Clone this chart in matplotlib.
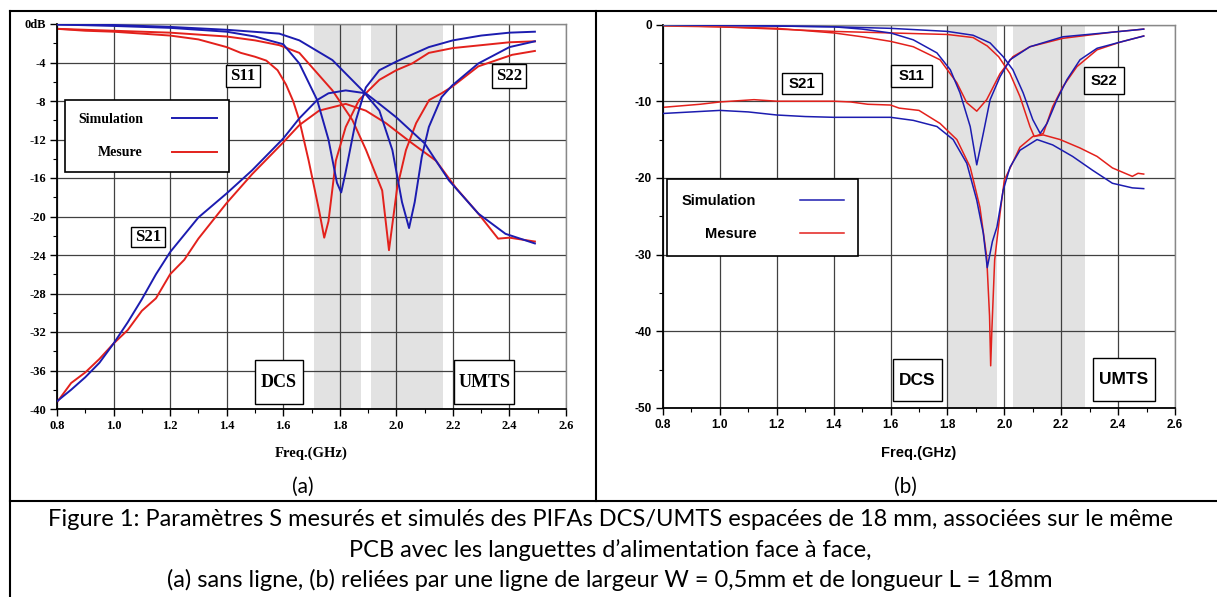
import numpy as np
import matplotlib
matplotlib.use("Agg")
import matplotlib.pyplot as plt
from matplotlib.lines import Line2D
from matplotlib.patches import Rectangle
from matplotlib.ticker import MultipleLocator, FixedLocator, FixedFormatter

plt.rcParams['axes.unicode_minus'] = False

# ---------------- (a) sans ligne ----------------
a_s11_sim_f = [0.80, 1.00, 1.20, 1.40, 1.50, 1.60, 1.657, 1.72, 1.76, 1.79, 1.805, 1.82,
               1.857, 1.892, 1.94, 2.00, 2.115, 2.20, 2.30, 2.40, 2.49]
a_s11_sim_db = [-0.05, -0.2, -0.4, -0.8, -1.3, -2.1, -4.1, -7.9, -12.0, -16.5, -17.5, -15.5,
                -10.0, -6.6, -4.8, -3.9, -2.4, -1.7, -1.2, -0.9, -0.8]

a_s11_meas_f = [0.80, 0.90, 1.00, 1.10, 1.20, 1.30, 1.40, 1.45, 1.50, 1.54, 1.58, 1.61, 1.635,
                1.657, 1.69, 1.727, 1.745, 1.76, 1.786, 1.821, 1.868, 1.94, 2.00, 2.056, 2.115,
                2.20, 2.30, 2.40, 2.49]
a_s11_meas_db = [-0.5, -0.7, -0.8, -1.0, -1.2, -1.6, -2.4, -3.0, -3.4, -3.8, -4.8, -6.3, -8.0,
                 -10.0, -14.2, -19.4, -22.2, -20.5, -14.2, -10.7, -7.9, -5.8, -4.8, -4.1, -3.0,
                 -2.5, -2.2, -1.9, -1.8]

a_s22_sim_f = [0.80, 1.00, 1.20, 1.40, 1.586, 1.657, 1.774, 1.88, 1.94, 1.986, 2.02, 2.045,
               2.065, 2.09, 2.115, 2.16, 2.197, 2.29, 2.40, 2.49]
a_s22_sim_db = [-0.05, -0.1, -0.3, -0.6, -1.0, -1.7, -3.75, -6.9, -9.0, -13.1, -18.5, -21.2,
                -18.5, -13.8, -10.7, -7.6, -6.4, -4.1, -2.4, -1.8]

a_s22_meas_f = [0.80, 1.00, 1.20, 1.40, 1.50, 1.586, 1.657, 1.774, 1.845, 1.893, 1.95, 1.974,
                2.003, 2.034, 2.07, 2.116, 2.16, 2.198, 2.29, 2.41, 2.49]
a_s22_meas_db = [-0.5, -0.7, -0.9, -1.3, -1.7, -2.2, -3.0, -6.9, -10.0, -13.1, -17.3, -23.5,
                 -17.0, -13.1, -10.3, -7.9, -7.2, -6.5, -4.4, -3.2, -2.8]

a_s21_sim_f = [0.80, 0.85, 0.90, 0.95, 1.00, 1.05, 1.10, 1.15, 1.20, 1.30, 1.40, 1.49, 1.60,
               1.657, 1.72, 1.76, 1.821, 1.892, 1.94, 2.00, 2.10, 2.186, 2.29, 2.386, 2.49]
a_s21_sim_db = [-39.2, -38.0, -36.7, -35.2, -33.2, -31.0, -28.6, -26.0, -23.7, -20.1, -17.6,
                -15.2, -11.9, -9.8, -7.9, -7.2, -6.9, -7.2, -8.3, -9.7, -12.4, -16.25, -19.7,
                -21.8, -22.8]

a_s21_meas_f = [0.80, 0.85, 0.90, 0.95, 1.00, 1.05, 1.10, 1.15, 1.20, 1.25, 1.30, 1.40, 1.49,
                1.60, 1.657, 1.727, 1.821, 1.892, 1.963, 2.056, 2.14, 2.21, 2.29, 2.36, 2.40, 2.49]
a_s21_meas_db = [-39.3, -37.3, -36.2, -34.8, -33.2, -31.8, -29.8, -28.5, -26.0, -24.5, -22.3,
                 -18.6, -15.6, -12.3, -10.5, -9.0, -8.3, -9.0, -10.3, -12.4, -14.2, -17.0,
                 -19.7, -22.3, -22.2, -22.6]

a_bands = [(1.71, 1.875), (1.91, 2.165)]
a_yticks = [0, -4, -8, -12, -16, -20, -24, -28, -32, -36, -40]
a_ylabels = ['0dB', '-4', '-8', '-12', '-16', '-20', '-24', '-28', '-32', '-36', '-40']

# ---------------- (b) avec ligne ----------------
b_s11_sim_f = [0.80, 1.00, 1.20, 1.40, 1.50, 1.60, 1.68, 1.763, 1.81, 1.844, 1.88, 1.903,
               1.926, 1.95, 1.985, 2.02, 2.09, 2.206, 2.38, 2.49]
b_s11_sim_db = [0.0, -0.1, -0.2, -0.3, -0.6, -1.1, -2.0, -3.7, -5.9, -8.9, -13.3, -18.3,
                -14.2, -9.8, -6.8, -4.6, -2.9, -1.6, -1.0, -0.6]

b_s11_meas_f = [0.80, 1.00, 1.20, 1.30, 1.40, 1.50, 1.60, 1.68, 1.774, 1.833, 1.868, 1.903,
                1.938, 1.985, 2.03, 2.09, 2.206, 2.38, 2.49]
b_s11_meas_db = [-0.2, -0.3, -0.5, -0.8, -1.1, -1.6, -2.2, -2.9, -4.6, -7.6, -10.2, -11.3,
                 -9.8, -6.4, -4.2, -2.9, -1.8, -1.0, -0.6]

b_s22_sim_f = [0.80, 1.00, 1.20, 1.40, 1.60, 1.80, 1.89, 1.95, 1.996, 2.03, 2.066, 2.10,
               2.126, 2.15, 2.185, 2.22, 2.266, 2.326, 2.407, 2.49]
b_s22_sim_db = [0.0, -0.1, -0.2, -0.3, -0.5, -0.9, -1.4, -2.4, -4.2, -5.9, -8.9, -12.4,
                -14.2, -12.9, -9.8, -7.2, -4.6, -3.1, -2.3, -1.5]

b_s22_meas_f = [0.80, 1.00, 1.20, 1.40, 1.60, 1.80, 1.89, 1.94, 1.98, 2.02, 2.055, 2.09,
                2.105, 2.137, 2.17, 2.206, 2.255, 2.326, 2.407, 2.49]
b_s22_meas_db = [-0.1, -0.3, -0.6, -0.9, -1.1, -1.3, -1.7, -2.8, -4.2, -6.4, -9.4, -13.3,
                 -14.6, -14.2, -10.7, -8.1, -5.5, -3.3, -2.3, -1.5]

b_s21_sim_f = [0.80, 0.90, 1.00, 1.10, 1.20, 1.30, 1.40, 1.60, 1.68, 1.763, 1.82, 1.868,
               1.903, 1.926, 1.940, 1.958, 1.974, 1.996, 2.02, 2.055, 2.115, 2.17, 2.24,
               2.31, 2.38, 2.45, 2.49]
b_s21_sim_db = [-11.6, -11.4, -11.2, -11.4, -11.8, -12.0, -12.1, -12.1, -12.5, -13.3, -15.0,
                -18.1, -22.9, -27.2, -31.7, -28.3, -26.4, -21.6, -18.6, -16.4, -15.0, -15.7,
                -17.2, -19.0, -20.7, -21.3, -21.4]

b_s21_meas_f = [0.80, 0.93, 1.00, 1.12, 1.20, 1.30, 1.40, 1.46, 1.52, 1.60, 1.63, 1.70,
                1.774, 1.833, 1.88, 1.914, 1.938, 1.948, 1.952, 1.956, 1.966, 1.985, 2.00,
                2.055, 2.10, 2.137, 2.196, 2.266, 2.326, 2.38, 2.45, 2.47, 2.49]
b_s21_meas_db = [-10.8, -10.4, -10.1, -9.8, -10.0, -10.0, -10.0, -10.1, -10.4, -10.5, -10.9,
                 -11.2, -12.9, -15.0, -18.6, -23.8, -30.3, -38.0, -44.5, -40.0, -30.7, -24.6,
                 -20.3, -16.0, -14.6, -14.4, -15.0, -16.1, -17.2, -18.7, -19.8, -19.4, -19.5]

b_bands = [(1.80, 1.975), (2.03, 2.285)]
b_yticks = [0, -10, -20, -30, -40, -50]
b_ylabels = ['0', '-10', '-20', '-30', '-40', '-50']

xticks = [0.8, 1.0, 1.2, 1.4, 1.6, 1.8, 2.0, 2.2, 2.4, 2.6]
legend_labels = ['Simulation', 'Mesure']
caption = ["Figure 1: Paramètres S mesurés et simulés des PIFAs DCS/UMTS espacées de 18 mm, associées sur le même",
           "PCB avec les languettes d\u2019alimentation face à face,",
           "(a) sans ligne, (b) reliées par une ligne de largeur W = 0,5mm et de longueur L = 18mm"]

BLUE = '#1c1cb0'
RED = '#e3211c'
BAND = '#e2e2e2'

W, H = 1217, 597
fig = plt.figure(figsize=(W / 100, H / 100), dpi=100)


def fx(px):
    return px / W


def fy(py):
    return 1 - py / H


def setup(ax, fam, yticks, ylabels, ymin, ymaxminor, tick_fs):
    ax.set_xlim(0.8, 2.6)
    ax.set_ylim(ymin, 0)
    ax.xaxis.set_major_locator(FixedLocator(xticks))
    ax.xaxis.set_major_formatter(FixedFormatter(['%.1f' % t for t in xticks]))
    ax.xaxis.set_minor_locator(MultipleLocator(0.1))
    ax.yaxis.set_major_locator(FixedLocator(yticks))
    ax.yaxis.set_major_formatter(FixedFormatter(ylabels))
    ax.yaxis.set_minor_locator(MultipleLocator(ymaxminor))
    ax.tick_params(which='major', direction='out', length=5, width=1, pad=3)
    ax.tick_params(which='minor', direction='out', length=3, width=0.8)
    for lab in ax.get_xticklabels() + ax.get_yticklabels():
        lab.set_family(fam)
        lab.set_weight('bold')
        lab.set_fontsize(tick_fs)
    ax.grid(True, which='major', color='#404040', lw=0.9)
    ax.set_axisbelow(True)
    for s in ['left', 'bottom']:
        ax.spines[s].set_color('black')
        ax.spines[s].set_linewidth(1.3)
    for s in ['top', 'right']:
        ax.spines[s].set_color('#888888')
        ax.spines[s].set_linewidth(1.0)


def boxed(ax, x0, x1, y0, y1, s, fam, fs):
    ax.add_patch(Rectangle((x0, y1), x1 - x0, y0 - y1, facecolor='white',
                           edgecolor='black', lw=1.0, zorder=5))
    ax.text((x0 + x1) / 2, (y0 + y1) / 2, s, ha='center', va='center', family=fam,
            weight='bold', fontsize=fs, zorder=6)


# ---- panel (a)
ax1 = fig.add_axes([fx(57), fy(409), fx(566 - 57), (409 - 24) / H])
for b0, b1 in a_bands:
    ax1.axvspan(b0, b1, color=BAND, lw=0, zorder=0.2)
l_sim, = ax1.plot(a_s11_sim_f, a_s11_sim_db, color=BLUE, lw=1.4, zorder=3)
l_meas, = ax1.plot(a_s11_meas_f, a_s11_meas_db, color=RED, lw=1.4, zorder=2)
ax1.plot(a_s22_sim_f, a_s22_sim_db, color=BLUE, lw=1.4, zorder=3)
ax1.plot(a_s22_meas_f, a_s22_meas_db, color=RED, lw=1.4, zorder=2)
ax1.plot(a_s21_sim_f, a_s21_sim_db, color=BLUE, lw=1.4, zorder=3)
ax1.plot(a_s21_meas_f, a_s21_meas_db, color=RED, lw=1.4, zorder=2)
setup(ax1, 'Liberation Serif', a_yticks, a_ylabels, -40, 2, 9)
ax1.set_xlabel('Freq.(GHz)', family='Liberation Serif', weight='bold', fontsize=10.5)
ax1.xaxis.set_label_coords(0.5, -(453 - 409) / 385)
ax1.xaxis.label.set_va('center')

SERIF = 'Liberation Serif'
boxed(ax1, 1.398, 1.518, -4.3, -6.5, 'S11', SERIF, 12)
boxed(ax1, 2.339, 2.457, -4.2, -6.6, 'S22', SERIF, 12)
boxed(ax1, 1.063, 1.183, -21.1, -23.2, 'S21', SERIF, 12)
boxed(ax1, 1.50, 1.67, -34.9, -39.5, 'DCS', SERIF, 13)
boxed(ax1, 2.205, 2.417, -34.9, -39.5, 'UMTS', SERIF, 13)

leg1 = ax1.legend([l_sim, l_meas], legend_labels, markerfirst=False, loc='upper left',
                  bbox_to_anchor=(0.83, -7.9), bbox_transform=ax1.transData,
                  borderaxespad=0, fancybox=False, framealpha=1, edgecolor='black',
                  handlelength=3.2, handletextpad=2.1, borderpad=0.9, labelspacing=1.5,
                  prop={'family': SERIF, 'weight': 'bold', 'size': 10})
leg1.get_frame().set_linewidth(1.2)
leg1.set_zorder(6)

# ---- panel (b)
SANS = 'Liberation Sans'
ax2 = fig.add_axes([fx(663), fy(408), fx(1175 - 663), (408 - 24.5) / H])
for b0, b1 in b_bands:
    ax2.axvspan(b0, b1, color=BAND, lw=0, zorder=0.2)
m_sim, = ax2.plot(b_s11_sim_f, b_s11_sim_db, color=BLUE, lw=1.1, zorder=3)
m_meas, = ax2.plot(b_s11_meas_f, b_s11_meas_db, color=RED, lw=1.1, zorder=2)
ax2.plot(b_s22_sim_f, b_s22_sim_db, color=BLUE, lw=1.1, zorder=3)
ax2.plot(b_s22_meas_f, b_s22_meas_db, color=RED, lw=1.1, zorder=2)
ax2.plot(b_s21_sim_f, b_s21_sim_db, color=BLUE, lw=1.1, zorder=3)
ax2.plot(b_s21_meas_f, b_s21_meas_db, color=RED, lw=1.1, zorder=2)
setup(ax2, SANS, b_yticks, b_ylabels, -50, 5, 8.5)
ax2.set_xlabel('Freq.(GHz)', family=SANS, weight='bold', fontsize=10.5)
ax2.xaxis.set_label_coords(0.5, -(453 - 408) / 383.5)
ax2.xaxis.label.set_va('center')

boxed(ax2, 1.22, 1.36, -6.3, -9.1, 'S21', SANS, 10.8)
boxed(ax2, 1.60, 1.745, -5.3, -8.2, 'S11', SANS, 10.8)
boxed(ax2, 2.28, 2.42, -5.6, -9.1, 'S22', SANS, 10.8)
boxed(ax2, 1.61, 1.78, -43.6, -49.1, 'DCS', SANS, 12.5)
boxed(ax2, 2.31, 2.53, -43.5, -49.1, 'UMTS', SANS, 12.5)

leg2 = ax2.legend([m_sim, m_meas], legend_labels, markerfirst=False, loc='upper left',
                  bbox_to_anchor=(0.815, -20.2), bbox_transform=ax2.transData,
                  borderaxespad=0, fancybox=False, framealpha=1, edgecolor='black',
                  handlelength=3.0, handletextpad=3.0, borderpad=1.0, labelspacing=1.3,
                  prop={'family': SANS, 'weight': 'bold', 'size': 10.5})
leg2.get_frame().set_linewidth(1.2)
leg2.set_zorder(6)

# ---- table frame and captions
for xs, ys in [((10, W), (11, 11)), ((10, 10), (11, H)), ((596, 596), (11, 501)),
               ((10, W), (501, 501))]:
    fig.add_artist(Line2D([fx(x) for x in xs], [fy(y) for y in ys], color='black',
                          lw=1.5, transform=fig.transFigure))

CAPFONT = 'Lato'
fig.text(fx(303), fy(487), '(a)', ha='center', va='center', family=CAPFONT, fontsize=15)
fig.text(fx(905), fy(487), '(b)', ha='center', va='center', family=CAPFONT, fontsize=15)
for i, line in enumerate(caption):
    fig.text(fx(610), fy(520 + 30 * i), line, ha='center', va='center',
             family=CAPFONT, fontsize=17)

fig.savefig('out.png', dpi=100)
